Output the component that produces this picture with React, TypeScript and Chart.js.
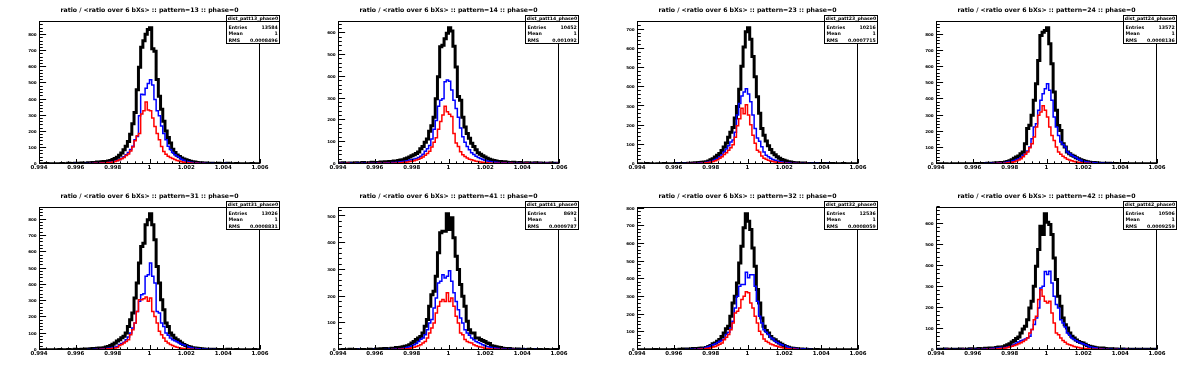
import React, { useEffect, useRef } from "react";
import { Chart, registerables } from "chart.js";

Chart.register(...registerables);

const FONT = "'DejaVu Sans', sans-serif";
const PAD_W = 299;
const PAD_H = 186;
const X_MIN = 0.994;
const X_MAX = 1.006;
const BIN_W = 0.00012;

const xTickValues = [0.994, 0.996, 0.998, 1.0, 1.002, 1.004, 1.006];
const xTickLabels = ["0.994", "0.996", "0.998", "1", "1.002", "1.004", "1.006"];

const patternNames = ["13", "14", "23", "24", "31", "41", "32", "42"];
const entriesValues = ["13584", "10452", "10216", "13572", "13026", "8692", "12536", "10506"];
const meanValues = ["1", "1", "1", "1", "1", "1", "1", "1"];
const rmsValues = ["0.0008496", "0.001092", "0.0007715", "0.0008136", "0.0008831", "0.0009787", "0.0008059", "0.0009259"];
const yLabelTop = [800, 600, 700, 800, 800, 500, 800, 600];

const p13Black = [2,0,1,3,0,2,1,0,2,1,3,1,2,4,2,3,5,2,4,6,
  4,5,8,6,9,10,12,11,14,16,15,18,22,28,34,42,55,68,88,110,
  140,185,250,320,460,600,725,765,805,835,845,715,700,525,420,340,265,205,165,130,
  92,72,56,46,38,31,26,21,17,14,12,10,8,7,6,6,5,4,4,3,
  3,4,2,3,2,5,2,1,2,3,1,2,1,2,0,1,3,1,0,1];
const p13Blue = [1,0,2,0,1,0,1,2,0,1,1,2,0,1,2,1,3,1,2,2,
  2,3,2,4,3,5,4,6,7,6,8,9,12,14,18,22,28,35,45,58,
  72,90,110,150,170,300,432,430,470,500,522,490,400,330,300,235,190,150,110,90,
  72,58,48,40,30,24,18,14,11,9,8,6,5,5,4,3,3,2,3,2,
  2,1,2,1,3,1,1,2,0,1,1,0,1,2,0,1,0,1,2,0];
const p13Red = [0,1,0,0,1,0,0,1,0,0,1,0,0,1,0,1,0,2,1,0,
  1,2,1,3,2,4,3,5,6,5,7,9,10,13,16,20,26,32,40,52,
  62,80,105,145,175,190,310,330,385,335,330,285,232,190,150,108,78,60,48,40,
  34,28,22,18,14,11,9,7,6,5,4,4,3,2,3,2,2,1,2,1,
  1,2,0,1,1,0,2,1,0,1,0,1,0,0,1,0,1,0,0,1];

const p14Black = [5,3,6,4,2,5,3,4,6,3,4,7,5,3,6,8,5,7,6,9,
  8,10,7,12,9,14,13,16,18,20,24,28,32,38,42,48,55,70,80,100,
  115,150,175,215,300,400,538,545,575,600,625,610,540,445,310,292,215,170,140,118,
  95,80,65,52,45,38,32,26,22,18,16,14,12,11,9,10,8,7,6,8,
  5,6,7,4,5,6,3,5,4,6,3,5,4,2,4,3,5,2,3,4];
const p14Blue = [2,3,1,4,2,3,2,1,3,2,3,2,4,3,2,4,3,5,3,4,
  5,4,6,5,7,6,8,9,10,11,13,15,18,20,23,25,30,35,45,58,
  70,85,115,160,200,265,292,300,378,385,380,340,292,255,215,165,125,100,80,65,
  52,44,36,30,25,21,17,14,12,10,9,8,7,6,5,6,4,5,3,4,
  3,4,2,3,4,2,3,2,3,2,2,3,1,2,3,2,1,2,2,3];
const p14Red = [1,2,0,1,3,1,0,2,1,1,2,1,1,3,1,2,2,1,3,2,
  2,3,2,4,3,4,5,5,6,7,8,9,11,13,15,18,22,26,32,40,
  48,58,78,100,120,160,195,225,265,240,228,218,140,96,80,56,42,34,28,22,
  19,16,13,11,9,8,7,6,5,4,4,3,3,4,2,3,2,2,3,1,
  2,1,2,1,2,3,1,2,1,2,1,2,1,1,2,1,2,1,1,2];

const p23Black = [0,1,0,0,2,0,1,0,0,1,0,1,2,0,1,0,1,2,1,3,
  2,3,2,4,3,5,6,5,8,9,10,12,15,22,28,36,45,55,70,88,
  110,140,165,190,240,300,390,510,610,690,710,650,560,455,350,265,185,150,120,95,
  75,58,48,38,30,24,19,15,12,10,8,7,6,5,4,5,3,3,2,3,
  2,3,1,2,2,1,2,1,3,1,1,0,1,2,1,0,1,0,1,0];
const p23Blue = [0,0,1,0,0,1,0,0,1,0,0,1,0,1,0,1,1,0,2,1,
  1,2,1,3,2,3,4,4,5,6,7,9,11,14,18,24,30,38,48,62,
  78,95,115,125,165,255,315,355,375,392,365,325,255,185,135,118,90,62,45,38,
  30,24,19,15,12,10,8,7,6,5,4,4,3,3,2,3,2,2,1,2,
  1,2,1,1,0,1,2,1,0,1,1,0,1,0,1,0,0,1,0,1];
const p23Red = [0,0,0,1,0,0,0,1,0,0,0,0,1,0,0,1,0,0,1,0,
  1,0,1,2,1,2,2,3,3,4,5,6,8,10,13,17,22,30,38,50,
  58,72,85,100,140,200,236,290,262,309,255,205,150,108,72,62,42,30,25,20,
  16,13,10,8,7,5,4,4,3,3,2,2,1,2,1,1,2,1,0,1,
  1,0,1,0,1,0,0,1,0,1,0,1,0,0,0,1,0,0,1,0];

const p24Black = [1,0,2,0,1,0,0,1,0,2,0,1,0,2,1,0,1,2,3,1,
  2,3,2,4,5,4,6,8,7,10,10,12,15,20,27,35,43,50,64,74,
  126,219,240,301,394,497,641,796,815,826,843,744,620,445,332,239,208,126,105,74,
  64,54,48,39,33,27,22,17,14,11,10,9,7,6,5,5,4,3,4,3,
  2,3,2,1,2,3,1,2,1,2,1,0,2,1,1,0,1,0,1,0];
const p24Blue = [0,1,0,0,1,0,1,0,0,1,1,0,1,0,2,1,0,1,2,1,
  2,1,3,2,3,4,4,5,6,7,8,10,12,15,18,22,28,33,40,54,
  64,80,105,157,229,249,332,394,435,466,497,456,394,291,229,177,136,120,105,74,
  64,54,45,39,30,23,18,14,12,10,9,8,6,5,5,4,3,3,2,3,
  2,1,2,1,1,2,1,0,1,1,0,1,1,0,1,0,0,1,0,1];
const p24Red = [0,0,1,0,0,0,1,0,0,0,1,0,0,1,0,0,1,0,1,1,
  0,1,1,2,1,2,3,3,4,5,4,5,7,9,11,14,18,24,33,45,
  60,74,100,126,167,229,301,322,361,332,291,229,177,146,105,74,60,48,39,30,
  25,20,16,13,10,8,7,5,4,4,3,2,2,1,2,1,1,0,1,1,
  0,1,0,1,0,0,1,0,0,1,0,0,1,0,0,1,0,0,0,0];

const p31Black = [1,0,2,1,0,1,2,0,1,3,1,2,0,3,2,1,4,2,3,5,
  4,6,5,7,9,8,10,12,11,14,18,22,27,35,43,55,63,75,84,104,
  145,186,227,319,411,534,636,656,769,800,836,769,677,513,411,309,247,166,145,104,
  90,74,63,53,43,33,27,22,18,14,12,10,9,7,6,5,5,4,3,4,
  3,2,3,1,2,4,2,1,2,3,1,2,1,0,2,1,1,3,0,1];
const p31Blue = [1,0,0,1,0,1,0,0,2,0,1,0,1,2,0,1,1,0,2,1,
  2,1,3,2,3,4,4,5,6,8,9,11,13,15,18,22,33,40,47,63,
  80,104,135,166,237,299,339,345,452,462,534,452,411,237,227,166,145,104,90,74,
  63,57,50,43,36,30,27,20,16,12,10,8,7,6,5,4,4,3,2,3,
  2,1,2,1,1,2,1,0,1,1,1,0,1,0,0,1,0,1,0,1];
const p31Red = [0,1,0,0,0,1,0,0,0,1,0,0,1,0,1,0,0,1,0,1,
  1,0,2,1,2,2,3,3,4,5,6,7,8,10,12,16,27,33,43,52,
  63,94,125,166,237,309,309,315,325,299,319,237,206,166,115,94,74,53,43,33,
  27,22,17,14,11,9,7,6,5,4,3,3,2,2,1,2,1,1,0,1,
  1,0,1,0,0,1,0,0,1,0,0,1,0,0,1,0,0,0,1,0];

const p41Black = [1,0,2,0,1,3,0,1,2,0,1,2,0,1,3,1,2,4,3,5,
  3,6,4,5,7,6,9,8,10,12,14,16,20,26,32,39,45,51,64,89,
  114,164,207,220,276,364,439,445,445,510,451,495,420,351,301,245,201,164,108,76,
  64,64,45,45,39,36,32,26,24,16,14,12,10,9,7,6,5,6,4,3,
  3,4,2,3,2,1,3,2,1,2,1,2,0,1,2,1,0,1,2,1];
const p41Blue = [0,1,0,0,1,0,1,0,0,2,0,1,1,0,1,0,2,1,0,1,
  1,2,1,3,2,3,4,5,5,6,8,10,12,16,20,24,32,40,45,57,
  76,101,114,157,195,251,257,282,270,276,297,257,214,182,151,120,101,76,64,55,
  45,38,32,28,24,20,16,13,11,9,8,7,6,5,4,4,3,3,2,3,
  2,1,2,1,2,1,1,0,1,2,1,0,1,1,0,1,0,1,1,0];
const p41Red = [0,0,1,0,0,0,1,0,0,1,0,1,0,0,1,0,0,1,1,0,
  1,0,1,1,2,1,2,3,3,4,4,5,6,8,10,13,16,20,26,32,
  45,64,82,101,139,164,182,189,182,214,182,195,164,126,101,64,57,39,32,28,
  26,20,16,13,11,9,7,6,5,4,4,3,2,3,2,1,2,1,1,2,
  1,0,1,1,0,1,0,1,0,0,1,0,1,0,0,1,0,0,1,0];

const p32Black = [0,1,0,2,0,1,0,1,3,0,1,0,2,1,2,0,3,1,2,4,
  3,5,4,6,5,8,7,9,10,12,11,14,20,25,35,40,49,60,77,96,
  120,134,191,266,304,379,492,587,691,770,728,681,577,474,342,266,181,134,110,96,
  77,64,58,46,40,32,25,20,15,12,10,9,7,6,5,4,4,3,3,2,
  2,3,1,2,1,2,1,1,2,1,1,0,1,0,1,2,0,1,0,1];
const p32Blue = [0,1,0,0,1,0,0,1,0,1,0,1,1,0,1,2,0,1,1,2,
  1,2,3,2,4,3,5,6,7,9,12,16,20,25,30,36,42,49,55,62,
  87,100,125,162,238,304,360,370,370,440,408,426,426,360,275,191,153,115,100,87,
  70,62,49,42,36,30,25,21,16,12,10,9,7,6,5,5,4,3,3,2,
  2,1,2,1,1,0,2,1,1,0,1,1,0,1,0,1,0,0,1,0];
const p32Red = [0,0,1,0,0,0,1,0,0,0,0,1,0,0,1,0,0,1,0,1,
  0,1,1,2,1,2,3,3,4,5,6,8,10,13,17,20,25,32,40,58,
  72,87,115,153,209,219,238,285,304,330,323,266,238,191,153,106,87,62,50,43,
  34,30,24,21,17,14,11,9,7,6,5,4,3,3,2,2,1,2,1,1,
  1,0,1,1,0,1,0,0,1,0,0,1,0,0,0,1,0,0,0,1];

const p42Black = [2,4,1,3,5,2,3,1,4,2,3,5,2,4,3,6,4,5,3,7,
  6,5,8,7,9,10,9,12,14,13,16,20,25,30,38,45,55,62,81,100,
  113,144,200,232,303,398,478,589,549,648,608,597,549,438,335,256,208,152,120,105,
  81,66,57,48,41,36,33,27,21,18,15,13,11,10,8,9,7,6,5,6,
  4,5,3,4,5,2,4,3,4,2,3,4,2,3,1,4,2,3,2,3];
const p42Blue = [1,2,0,1,3,1,2,0,2,1,2,1,3,2,1,3,2,4,2,3,
  4,3,5,4,6,7,8,10,9,12,10,12,14,17,21,26,33,38,44,48,
  52,58,65,97,121,152,200,295,303,373,359,375,319,256,216,200,144,129,110,81,
  70,57,50,44,38,33,30,25,21,16,13,11,9,7,6,5,5,4,3,4,
  3,2,3,2,1,3,2,2,1,2,2,1,2,1,2,1,2,1,1,2];
const p42Red = [0,1,0,1,0,2,0,1,0,1,1,0,2,1,0,1,2,1,0,2,
  1,2,1,3,2,4,3,5,6,7,8,10,12,15,18,21,25,30,35,41,
  48,57,81,97,144,160,240,287,256,232,224,232,176,129,81,73,57,45,37,29,
  25,21,17,14,12,10,8,7,6,5,4,3,3,2,3,2,1,2,1,1,
  1,2,0,1,1,0,2,1,0,1,1,0,1,0,1,0,1,1,0,0];

const blackSeries = [p13Black, p14Black, p23Black, p24Black, p31Black, p41Black, p32Black, p42Black];
const blueSeries = [p13Blue, p14Blue, p23Blue, p24Blue, p31Blue, p41Blue, p32Blue, p42Blue];
const redSeries = [p13Red, p14Red, p23Red, p24Red, p31Red, p41Red, p32Red, p42Red];

function toPoints(arr: number[]) {
  const pts = arr.map((v, i) => ({ x: X_MIN + i * BIN_W, y: v }));
  pts.push({ x: X_MAX, y: arr[arr.length - 1] });
  return pts;
}

function Panel({ idx }: { idx: number }) {
  const ref = useRef<HTMLCanvasElement>(null);
  useEffect(() => {
    const canvas = ref.current;
    if (!canvas) return;
    const black = blackSeries[idx];
    const yMax = Math.max(...black) * 1.05;
    const yVals: number[] = [];
    for (let v = 0; v <= yLabelTop[idx]; v += 100) yVals.push(v);
    const statsTitle = "dist_patt" + patternNames[idx] + "_phase0";
    const statRows = [
      ["Entries", entriesValues[idx]],
      ["Mean", meanValues[idx]],
      ["RMS", rmsValues[idx]],
    ];

    const framePlugin = {
      id: "rootFrame",
      afterDraw(chart: any) {
        const { ctx, chartArea: a, scales } = chart;
        const xs = scales.x;
        const ys = scales.y;
        ctx.save();
        ctx.strokeStyle = "#000";
        ctx.lineWidth = 1;
        const L = Math.round(a.left) + 0.5;
        const R = Math.round(a.right) - 0.5;
        const T = Math.round(a.top) + 0.5;
        const B = Math.round(a.bottom) - 0.5;
        ctx.strokeRect(L, T, R - L, B - T);
        ctx.beginPath();
        for (let k = 0; k <= 30; k++) {
          const v = X_MIN + k * 0.0004;
          const px = Math.round(xs.getPixelForValue(v)) + 0.5;
          const len = k % 5 === 0 ? 4.5 : 2.2;
          ctx.moveTo(px, B);
          ctx.lineTo(px, B - len);
        }
        for (let k = 0; k * 20 <= ys.max; k++) {
          const py = Math.round(ys.getPixelForValue(k * 20)) - 0.5;
          const len = k % 5 === 0 ? 6.6 : 3.3;
          ctx.moveTo(L, py);
          ctx.lineTo(L + len, py);
        }
        ctx.stroke();

        // stats box
        const bx1 = 226.5, bx2 = 279.5, by1 = 15.5, by2 = 43.5, sep = 21.5;
        ctx.fillStyle = "#fff";
        ctx.fillRect(bx1, by1, bx2 - bx1, by2 - by1);
        ctx.strokeRect(bx1, by1, bx2 - bx1, by2 - by1);
        ctx.beginPath();
        ctx.moveTo(bx1, sep);
        ctx.lineTo(bx2, sep);
        ctx.stroke();
        ctx.fillStyle = "#000";
        ctx.textBaseline = "middle";
        ctx.font = "bold 4.6px " + FONT;
        ctx.textAlign = "center";
        ctx.fillText(statsTitle, (bx1 + bx2) / 2, 18.6);
        ctx.font = "bold 4.7px " + FONT;
        const rowY = [27.3, 33.8, 40.3];
        statRows.forEach((r, i) => {
          ctx.textAlign = "left";
          ctx.fillText(r[0], 228.5, rowY[i]);
          ctx.textAlign = "right";
          ctx.fillText(r[1], 277.8, rowY[i]);
        });
        ctx.restore();
      },
    };

    const chart = new Chart(canvas, {
      type: "line",
      data: {
        datasets: [
          { data: toPoints(black), borderColor: "#000000", borderWidth: 3, pointRadius: 0, stepped: true, fill: false, order: 3 },
          { data: toPoints(blueSeries[idx]), borderColor: "#0000ff", borderWidth: 1.5, pointRadius: 0, stepped: true, fill: false, order: 2 },
          { data: toPoints(redSeries[idx]), borderColor: "#ff0000", borderWidth: 1.5, pointRadius: 0, stepped: true, fill: false, order: 1 },
        ],
      },
      options: {
        animation: false,
        responsive: false,
        events: [],
        layout: { padding: { left: 0, right: 39, top: 0, bottom: 0 } },
        plugins: {
          legend: { display: false },
          tooltip: { enabled: false },
          title: {
            display: true,
            fullSize: false,
            text: "ratio / <ratio over 6 bXs> :: pattern=" + patternNames[idx] + " :: phase=0",
            color: "#000",
            font: { family: FONT, size: 6.2, weight: "bold" },
            padding: { top: 6.4, bottom: 7.16 },
          },
        },
        scales: {
          x: {
            type: "linear",
            min: X_MIN,
            max: X_MAX,
            afterFit: (s: any) => { s.height = 22; s.paddingLeft = 0; s.paddingRight = 0; },
            afterBuildTicks: (s: any) => { s.ticks = xTickValues.map((v) => ({ value: v })); },
            ticks: {
              autoSkip: false,
              maxRotation: 0,
              minRotation: 0,
              padding: 0,
              color: "#000",
              font: { family: FONT, size: 5.4, weight: "bold" },
              callback: (v: any) => {
                let best = 0;
                xTickValues.forEach((t, i) => { if (Math.abs(t - v) < Math.abs(xTickValues[best] - v)) best = i; });
                return xTickLabels[best];
              },
            },
            grid: { display: false, drawTicks: false, tickLength: 0 },
            border: { display: false },
          },
          y: {
            type: "linear",
            min: 0,
            max: yMax,
            afterFit: (s: any) => { s.width = 39; s.paddingTop = 0; s.paddingBottom = 0; },
            afterBuildTicks: (s: any) => { s.ticks = yVals.map((v) => ({ value: v })); },
            ticks: {
              autoSkip: false,
              padding: 2.3,
              color: "#000",
              font: { family: FONT, size: 4.1, weight: "bold" },
              callback: (v: any) => String(Math.round(v)),
            },
            grid: { display: false, drawTicks: false, tickLength: 0 },
            border: { display: false },
          },
        },
      },
      plugins: [framePlugin],
    } as any);
    return () => chart.destroy();
  }, [idx]);
  return <canvas ref={ref} width={PAD_W} height={PAD_H} style={{ display: "block", width: PAD_W, height: PAD_H }} />;
}

export default function App() {
  return (
    <div style={{ position: "absolute", left: 0, top: 0, width: PAD_W * 4, height: PAD_H * 2, background: "#fff" }}>
      {patternNames.map((p, i) => (
        <div key={p} style={{ position: "absolute", left: (i % 4) * PAD_W, top: Math.floor(i / 4) * PAD_H, width: PAD_W, height: PAD_H }}>
          <Panel idx={i} />
        </div>
      ))}
    </div>
  );
}
